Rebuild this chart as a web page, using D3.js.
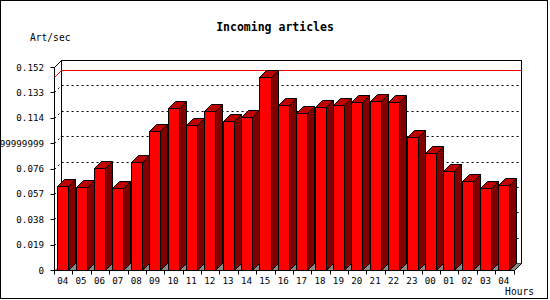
<!DOCTYPE html>
<html>
<head>
<meta charset="utf-8">
<script src="https://cdn.jsdelivr.net/npm/d3@7"></script>
<style>
  html, body { margin: 0; padding: 0; background: #fff; }
  svg { display: block; }
  text { font-family: "DejaVu Sans Mono", "Liberation Mono", monospace; }
</style>
</head>
<body>
<svg id="chart" width="550" height="300"></svg>
<script>
// ---- data ----
const hours = ["04","05","06","07","08","09","10","11","12","13","14","15","16","17","18","19","20","21","22","23","00","01","02","03","04"];
const rates = [0.0629,0.0619,0.0762,0.0612,0.0806,0.1039,0.1211,0.1086,0.1193,0.1112,0.1149,0.1443,0.1233,0.1173,0.1218,0.1233,0.1256,0.1263,0.1256,0.0994,0.0874,0.0739,0.0664,0.0612,0.0633];
const yTickValues = [0,0.019,0.038,0.057,0.076,0.095,0.114,0.133,0.152];
const yTickLabels = ["0","0.019","0.038","0.057","0.076","0.094999999999999","0.114","0.133","0.152"];
const titleText = "Incoming articles";
const yTitle = "Art/sec";
const xTitle = "Hours";

(function () {
// ---- layout ----
const svg = d3.select("#chart");
const pL = 54, pR = 513.5, pB = 270, pT = 67, depth = 7;
const idx = d3.range(hours.length);
const x = d3.scaleBand().domain(idx).range([pL, pR]).paddingInner(0).paddingOuter(0);
const y = d3.scaleLinear().domain([0, 0.152]).range([pB, pT]);
const r = v => Math.round(v) + 0.5;

svg.append("rect").attr("x",0).attr("y",0).attr("width",550).attr("height",300).attr("fill","#fff");

// titles
svg.append("text").attr("x",275).attr("y",31).attr("text-anchor","middle")
  .attr("font-size","11.5px").attr("font-weight","bold").text(titleText);
svg.append("text").attr("x",30).attr("y",41).attr("font-size","9.6px").text(yTitle);
svg.append("text").attr("x",534).attr("y",295).attr("text-anchor","end")
  .attr("font-size","9.6px").text(xTitle);

// back wall
const bx0 = pL + depth, bx1 = pR + depth, by0 = pT - depth, by1 = pB - depth;
svg.append("rect").attr("x",r(bx0)).attr("y",r(by0)).attr("width",Math.round(bx1-bx0)).attr("height",Math.round(by1-by0))
  .attr("fill","#fff").attr("stroke","#000");

// floor
svg.append("path").attr("d",`M${r(pL)},${r(pB)}L${r(pR)},${r(pB)}L${r(bx1)},${r(by1)}L${r(bx0)},${r(by1)}Z`)
  .attr("fill","#888").attr("stroke","none");

// grid lines (dotted)
const grid = svg.append("g").attr("stroke","#000").attr("stroke-dasharray","2,3").attr("fill","none");
yTickValues.slice(1, -1).forEach(v => {
  const yy = y(v);
  grid.append("path").attr("d",`M${r(pL)},${r(yy)}L${r(bx0)},${r(yy-depth)}L${r(bx1)},${r(yy-depth)}`);
});

// max line
const maxV = d3.max(rates);
svg.append("path").attr("d",`M${r(pL)},${r(y(maxV))}L${r(bx0)},${r(y(maxV)-depth)}L${r(bx1)},${r(y(maxV)-depth)}`)
  .attr("stroke","#f00").attr("fill","none");

// edges
svg.append("path").attr("d",`M${r(pL)},${r(pT)}L${r(bx0)},${r(by0)}`).attr("stroke","#000");
svg.append("path").attr("d",`M${r(pR)},${r(pB)}L${r(bx1)},${r(by1)}`).attr("stroke","#000");

// bars
const bw = x.bandwidth();
const bars = svg.append("g").attr("stroke","#000");
idx.forEach(i => {
  const x0 = r(x(i) + bw*0.18), x1 = r(x(i) + bw*0.18 + bw*0.6);
  const yt = r(y(rates[i])), yb = r(pB);
  const d = depth;
  bars.append("path").attr("d",`M${x1},${yt}L${x1+d},${yt-d}L${x1+d},${yb-d}L${x1},${yb}Z`).attr("fill","#800000");
  bars.append("path").attr("d",`M${x0},${yt}L${x0+d},${yt-d}L${x1+d},${yt-d}L${x1},${yt}Z`).attr("fill","#c00000");
  bars.append("rect").attr("x",x0).attr("y",yt).attr("width",x1-x0).attr("height",yb-yt).attr("fill","#f00");
});

// y axis
const yAxis = svg.append("g");
yAxis.append("path").attr("d",`M${r(pL)},${r(pT)}L${r(pL)},${r(pB)}`).attr("stroke","#000");
yTickValues.forEach((v,k) => {
  yAxis.append("path").attr("d",`M${r(pL)-4},${r(y(v))}L${r(pL)},${r(y(v))}`).attr("stroke","#000");
  yAxis.append("text").attr("x",44).attr("y",y(v)+3.5).attr("text-anchor","end")
    .attr("font-size","9.2px").text(yTickLabels[k]);
});

// x axis
const xAxis = svg.append("g");
xAxis.append("path").attr("d",`M${r(pL)},${r(pB)}L${r(pR)},${r(pB)}`).attr("stroke","#000");
idx.forEach(i => {
  xAxis.append("path").attr("d",`M${r(x(i))},${r(pB)}L${r(x(i))},${r(pB)+4}`).attr("stroke","#000");
  xAxis.append("text").attr("x",x(i)+bw/2-0.5).attr("y",284).attr("text-anchor","middle")
    .attr("font-size","9.2px").text(hours[i]);
});
xAxis.append("path").attr("d",`M${r(pR)},${r(pB)}L${r(pR)},${r(pB)+4}`).attr("stroke","#000");

// outer border
svg.append("rect").attr("x",0.5).attr("y",0.5).attr("width",547).attr("height",298)
  .attr("fill","none").attr("stroke","#000");
})();
</script>
</body>
</html>
